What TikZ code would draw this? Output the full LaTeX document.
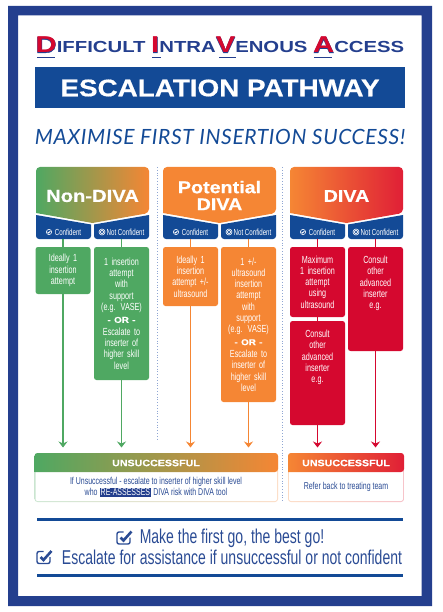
\documentclass[tikz,border=0pt]{standalone}
\usepackage{fontspec}
\usetikzlibrary{arrows.meta}
\setmainfont{Liberation Sans}
\newfontfamily\condfont[FakeStretch=0.7]{Liberation Sans}
\newfontfamily\widefont[FakeStretch=1.16]{Liberation Sans}
\newfontfamily\heavyfont[FakeStretch=1.16,FakeBold=0.6]{Liberation Sans Bold}
\newfontfamily\titlefont[FakeStretch=1.27]{Liberation Sans Bold}
\newfontfamily\fatfont[FakeStretch=1.27,FakeBold=1.5]{Liberation Sans Bold}
\newfontfamily\handfont[LetterSpace=3]{Lato}
\definecolor{framebl}{HTML}{243F8E}
\definecolor{bannerbl}{HTML}{134A96}
\definecolor{textbl}{HTML}{2A4B94}
\definecolor{greenc}{HTML}{4FA862}
\definecolor{orangec}{HTML}{F58634}
\definecolor{redc}{HTML}{D5082F}
\definecolor{redhead}{HTML}{E01F36}
\definecolor{sepbl}{HTML}{8FA6D3}
% capital of the title, red on a blue edge
\newcommand{\titlecap}[1]{{\fontsize{23}{23}\selectfont\rlap{\fatfont\color{framebl}#1}\color{redc}\titlefont #1}}
\tikzset{
	flowbox/.style={anchor=north,rounded corners=2.5pt,fill=#1,text=white,align=center,
		text width=51pt,inner xsep=2pt,inner ysep=0pt,outer sep=0pt,
		font=\condfont\fontsize{10.3}{11.3}\selectfont},
	link/.style={draw=#1,line width=1.7pt},
	tablabel/.style={text=white,inner sep=0pt,font=\condfont\fontsize{8.8}{9}\selectfont},
	headlabel/.style={text=white,align=center,inner sep=0pt,
		font=\heavyfont\fontsize{#1}{17}\selectfont},
	failhead/.style={text=white,inner sep=0pt,font=\heavyfont\fontsize{9.2}{10}\selectfont},
	failtext/.style={text=textbl,align=center,inner sep=0pt,font=\condfont\fontsize{10}{11}\selectfont},
	goaltext/.style={text=textbl,inner sep=0pt,font=\condfont\fontsize{20}{19}\selectfont},
	sepline/.style={draw=sepbl,dotted,line width=.8pt},
	okmark/.pic={
		\draw[white,line width=.6pt] (0,0) circle (2.6);
		\draw[white,line width=.8pt] (-1.3,0) -- (-.3,1) -- (1.4,-1);
	},
	nomark/.pic={
		\draw[white,line width=.6pt] (0,0) circle (3);
		\fill[white] (0,0) circle (2);
		\draw[bannerbl,line width=.5pt] (-1,-1) -- (1,1) (-1,1) -- (1,-1);
	},
	goalmark/.pic={
		\draw[textbl,line width=1.4pt,rounded corners=2pt] (0,-5.5) -- (-6.5,-5.5) -- (-6.5,6.5) -- (6.5,6.5) -- (6.5,0);
		\draw[textbl,line width=2.6pt] (-3,0) -- (0,3) -- (8,-6);
	},
}
\begin{document}
\begin{tikzpicture}[x=1pt,y=-1pt,>={Stealth[length=6pt,width=9pt,inset=2pt]}]
	\useasboundingbox (0,0) rectangle (443,612);
	
	%----------------------
	% Frame and title
	%----------------------
	\fill[framebl,even odd rule] (8,6) rectangle (432,606) (18,15.5) rectangle (421.5,596);
	\node[text=framebl,inner sep=0pt,font=\titlefont\fontsize{16}{17}\selectfont] (title) at (220,45)
	{\titlecap{D}IFFICULT \titlecap{I}NTRA\titlecap{V}ENOUS \titlecap{A}CCESS};
	\draw[framebl,line width=1.6pt] (37,57.5) -- (55,57.5) (152,57.5) -- (161,57.5) (219,57.5) -- (236,57.5) (314,57.5) -- (332,57.5);
	\fill[bannerbl] (35,67.5) rectangle (405,108.5);
	\node[text=white,inner sep=0pt,font=\heavyfont\fontsize{24}{24}\selectfont] (banner) at (220,88) {ESCALATION PATHWAY};
	\node[text=bannerbl,inner sep=0pt,font=\handfont\itshape\fontsize{21}{24}\selectfont] (motto) at (220,137) {MAXIMISE FIRST INSERTION SUCCESS!};
	
	% Column separators
	\draw[sepline] (157,167) -- (157,440);
	\draw[sepline] (282.5,167) -- (282.5,502);
	
	%----------------------
	% Column heads
	%----------------------
	\foreach \x/\cl/\cr in {36/greenc/orangec,163/orangec/orangec,290/orangec/redhead}{
		\shade[left color=\cl,right color=\cr] (\x,213) [rounded corners=4pt] -- (\x,167) -- (\x+113,167) -- (\x+113,213) [sharp corners] -- (\x+56.5,223) -- cycle;
		\fill[bannerbl] (\x,215) -- (\x+55,224.5) [rounded corners=3pt] -- (\x+55,239) -- (\x,239) [sharp corners] -- cycle;
		\fill[bannerbl] (\x+113,215) -- (\x+58,224.5) [rounded corners=3pt] -- (\x+58,239) -- (\x+113,239) [sharp corners] -- cycle;
		\pic at (\x+13,232) {okmark};
		\pic at (\x+66,232) {nomark};
	}
	\node[headlabel=17.4] (ndhead) at (92.5,196) {Non-DIVA};
	\node[headlabel=17] (pdhead) at (219.5,195.5) {Potential\\DIVA};
	\node[headlabel=17] (dihead) at (346.5,196) {DIVA};
	\node[tablabel] (ndconf) at (68,232) {Confident};
	\node[tablabel] (ndnot) at (125.5,232) {Not Confident};
	\node[tablabel] (pdconf) at (195,232) {Confident};
	\node[tablabel] (pdnot) at (252.5,232) {Not Confident};
	\node[tablabel] (diconf) at (322,232) {Confident};
	\node[tablabel] (dinot) at (379.5,232) {Not Confident};
	
	%----------------------
	% Boxes
	%----------------------
	\node[flowbox=greenc,minimum height=47pt] (ndbox1) at (63,247) {Ideally 1\\insertion\\attempt};
	\node[flowbox=greenc,minimum height=133pt] (ndbox2) at (121.5,247) {1 insertion\\attempt\\with\\support\\(e.g. VASE)\\[1pt]{\heavyfont\fontsize{8.5}{11.3}\selectfont - OR -}\\[1pt]Escalate to\\inserter of\\higher skill\\level};
	\node[flowbox=orangec,minimum height=59pt] (pdbox1) at (190.5,247) {Ideally 1\\insertion\\attempt +/-\\ultrasound};
	\node[flowbox=orangec,minimum height=155pt] (pdbox2) at (248.5,247) {1 +/-\\ultrasound\\insertion\\attempt\\with\\support\\(e.g. VASE)\\[1pt]{\heavyfont\fontsize{8.5}{11.3}\selectfont - OR -}\\[1pt]Escalate to\\inserter of\\higher skill\\level};
	\node[flowbox=redc,minimum height=70pt] (dibox1) at (317.5,247) {Maximum\\1 insertion\\attempt\\using\\ultrasound};
	\node[flowbox=redc,minimum height=104pt] (dibox2) at (317.5,321) {Consult\\other\\advanced\\inserter\\e.g.\\[22pt]~};
	\node[flowbox=redc,minimum height=104pt] (dibox3) at (375.5,247) {Consult\\other\\advanced\\inserter\\e.g.\\[22pt]~};
	
	%----------------------
	% Connectors
	%----------------------
	\coordinate (ndtab1) at (63,239);
	\coordinate (ndtab2) at (121.5,239);
	\coordinate (pdtab1) at (190.5,239);
	\coordinate (pdtab2) at (248.5,239);
	\coordinate (ditab1) at (317.5,239);
	\coordinate (ditab2) at (375.5,239);
	\coordinate (ndend1) at (63,447.5);
	\coordinate (ndend2) at (121.5,447.5);
	\coordinate (pdend1) at (190.5,447.5);
	\coordinate (pdend2) at (248.5,447.5);
	\coordinate (diend1) at (317.5,447.5);
	\coordinate (diend2) at (375.5,447.5);
	\draw[link=greenc] (ndtab1) -- (ndbox1);
	\draw[link=greenc] (ndtab2) -- (ndbox2);
	\draw[link=greenc,->] (ndbox1) -- (ndend1);
	\draw[link=greenc,->] (ndbox2) -- (ndend2);
	\draw[link=orangec] (pdtab1) -- (pdbox1);
	\draw[link=orangec] (pdtab2) -- (pdbox2);
	\draw[link=orangec,->] (pdbox1) -- (pdend1);
	\draw[link=orangec,->] (pdbox2) -- (pdend2);
	\draw[link=redc] (ditab1) -- (dibox1);
	\draw[link=redc] (ditab2) -- (dibox3);
	\draw[link=redc] (dibox1) -- (dibox2);
	\draw[link=redc,->] (dibox2) -- (diend1);
	\draw[link=redc,->] (dibox3) -- (diend2);
	
	%----------------------
	% Unsuccessful panels
	%----------------------
	\shade[left color=greenc!30,right color=orangec!30,rounded corners=3pt] (34.5,453) rectangle (278,502);
	\fill[white,rounded corners=2pt] (35.5,470) rectangle (277,501);
	\shade[left color=greenc,right color=orangec] (34.5,472) [rounded corners=3pt] -- (34.5,453) -- (278,453) -- (278,472) [sharp corners] -- cycle;
	\node[failhead] (failleft) at (156,463) {UNSUCCESSFUL};
	\node[failtext] (faillefttext) at (156,487.5) {If Unsuccessful - escalate to inserter of higher skill level\\who {\fboxsep=1.2pt\colorbox{framebl}{\textcolor{white}{RE-ASSESSES}}} DIVA risk with DIVA tool};
	
	\shade[left color=orangec!30,right color=redhead!30,rounded corners=3pt] (288,453) rectangle (404,502);
	\fill[white,rounded corners=2pt] (289,470) rectangle (403,501);
	\shade[left color=orangec,right color=redhead] (288,472) [rounded corners=3pt] -- (288,453) -- (404,453) -- (404,472) [sharp corners] -- cycle;
	\node[failhead] (failright) at (346,463) {UNSUCCESSFUL};
	\node[failtext] (failrighttext) at (346,487) {Refer back to treating team};
	
	%----------------------
	% Closing lines
	%----------------------
	\draw[bannerbl,line width=3pt] (37,519) -- (403,519);
	\draw[bannerbl,line width=3pt] (37,575) -- (403,575);
	\pic at (123.5,537.5) {goalmark};
	\pic at (43.5,557) {goalmark};
	\node[goaltext] (goal1) at (232,538) {Make the first go, the best go!};
	\node[goaltext] (goal2) at (232,557.5) {Escalate for assistance if unsuccessful or not confident};
\end{tikzpicture}
\end{document}
